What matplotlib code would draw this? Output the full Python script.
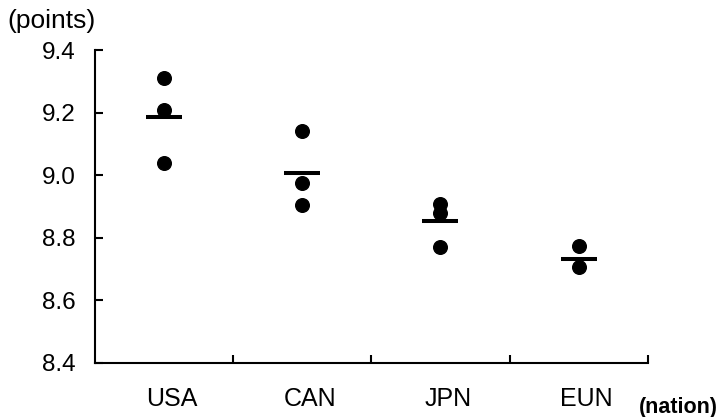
import matplotlib.pyplot as plt
from matplotlib.transforms import ScaledTranslation

plt.rcParams['font.family'] = ['Liberation Sans', 'DejaVu Sans']

nations = ['USA', 'CAN', 'JPN', 'EUN']
# individual scores per nation
scores = [
    [9.31, 9.21, 9.04],
    [9.14, 8.975, 8.905],
    [8.908, 8.88, 8.77],
    [8.774, 8.707],
]
means = [9.186, 9.007, 8.854, 8.732]
y_ticks = [8.4, 8.6, 8.8, 9.0, 9.2, 9.4]

fig = plt.figure(figsize=(7.19, 4.17), dpi=100)
ax = fig.add_axes([0.132, 0.1295, 0.769, 0.7505])

for i, vals in enumerate(scores):
    ax.plot([i] * len(vals), vals, 'o', color='black', markersize=9.8, linestyle='none')
ax.plot(range(len(nations)), means, '_', color='black', markersize=26,
        markeredgewidth=2.9, linestyle='none')

ax.set_xlim(-0.5, len(nations) - 0.5)
ax.set_ylim(8.4, 9.4)
ax.set_yticks(y_ticks)
ax.set_yticklabels([f'{t:.1f}' for t in y_ticks])
ax.set_xticks(range(len(nations)))
ax.set_xticklabels(nations)
ax.set_xticks([i + 0.5 for i in range(len(nations))], minor=True)

for s in ['top', 'right']:
    ax.spines[s].set_visible(False)
for s in ['left', 'bottom']:
    ax.spines[s].set_linewidth(1.5)

ax.tick_params(axis='y', direction='in', length=6, width=1.5, pad=14, labelsize=17.5)
ax.tick_params(axis='x', which='major', length=0, pad=17, labelsize=18)
ax.tick_params(axis='x', which='minor', direction='in', length=5.5, width=1.5)

# labels sit a little right of the dots in the original
shift = ScaledTranslation(8 / 100, 0, fig.dpi_scale_trans)
for lab in ax.get_xticklabels():
    lab.set_transform(lab.get_transform() + shift)

fig.text(0.01, 0.95, '(points)', fontsize=19, va='center', ha='left')
fig.text(0.999, 0.022, '(nation)', fontsize=15.5, fontweight='bold', va='center', ha='right')

fig.savefig('out.png', dpi=100)
